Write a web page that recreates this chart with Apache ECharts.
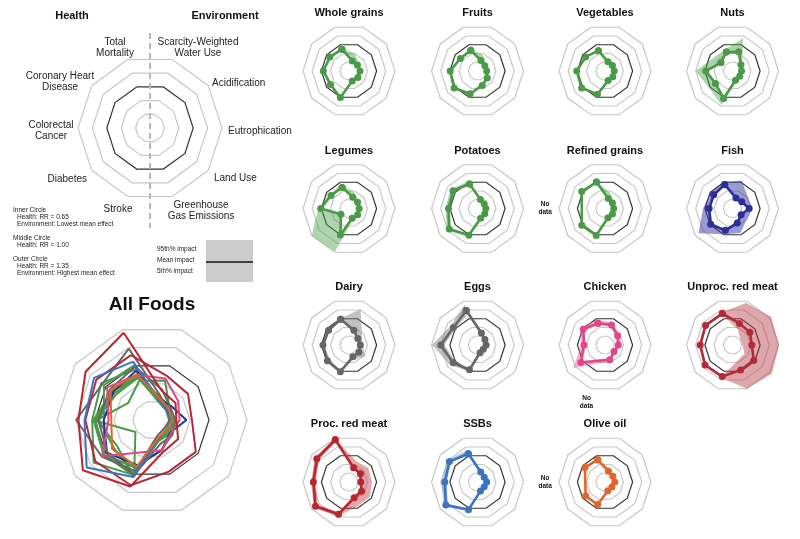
<!DOCTYPE html>
<html>
<head>
<meta charset="utf-8">
<script src="https://cdn.jsdelivr.net/npm/echarts@6/dist/echarts.min.js"></script>
<style>
  html, body { margin: 0; padding: 0; background: #ffffff; }
  #chart { width: 800px; height: 539px; }
</style>
</head>
<body>
<div id="chart"></div>
<script>
// ---------------- DATA ----------------
// Axis order (counter-clockwise from top-left):
// Total Mortality, Coronary Heart Disease, Colorectal Cancer, Diabetes, Stroke,
// Greenhouse Gas Emissions, Land Use, Eutrophication, Acidification, Scarcity-Weighted Water Use
// Values in ring units: 0 = centre, 3 = middle (black) ring, 5 = outer ring.
const healthAxes = ['Total\nMortality', 'Coronary Heart\nDisease', 'Colorectal\nCancer', 'Diabetes', 'Stroke'];
const envAxes = ['Greenhouse\nGas Emissions', 'Land Use', 'Eutrophication', 'Acidification', 'Scarcity-Weighted\nWater Use'];
const ringTicks = [0, 1, 2, 3, 4, 5];

const foodNames = ['Whole grains', 'Fruits', 'Vegetables', 'Nuts', 'Legumes', 'Potatoes', 'Refined grains', 'Fish',
  'Dairy', 'Eggs', 'Chicken', 'Unproc. red meat', 'Proc. red meat', 'SSBs', 'Olive oil'];

const wholeGrainsMean = [2.50, 2.57, 2.79, 2.49, 3.04, 1.15, 1.20, 1.20, 1.13, 1.15];
const wholeGrainsLow  = [2.40, 2.45, 2.65, 2.35, 2.95, 1.05, 1.10, 1.10, 1.05, 1.05];
const wholeGrainsHigh = [2.65, 2.65, 2.90, 2.60, 3.15, 1.25, 1.30, 1.30, 1.35, 2.00];

const fruitsMean = [2.36, 2.31, 2.97, 3.14, 2.60, 1.65, 1.31, 1.00, 0.98, 1.20];
const fruitsLow  = [2.22, 2.16, 2.82, 3.00, 2.47, 1.55, 1.22, 0.92, 0.90, 1.10];
const fruitsHigh = [2.50, 2.46, 3.12, 3.28, 2.74, 1.75, 1.40, 1.10, 1.20, 1.85];

const vegetablesMean = [2.32, 2.60, 3.08, 3.14, 2.66, 1.10, 1.05, 1.00, 1.00, 1.05];
const vegetablesLow  = [2.22, 2.50, 2.98, 3.04, 2.56, 1.02, 0.97, 0.92, 0.92, 0.97];
const vegetablesHigh = [2.42, 2.70, 3.18, 3.24, 2.76, 1.18, 1.13, 1.08, 1.10, 1.20];

const nutsMean = [2.17, 1.54, 2.90, 2.29, 3.13, 1.06, 0.97, 0.98, 1.14, 2.19];
const nutsLow  = [2.00, 1.40, 2.80, 2.20, 3.00, 0.96, 0.88, 0.90, 1.04, 1.90];
const nutsHigh = [2.50, 2.50, 4.00, 3.16, 3.87, 1.30, 1.10, 1.10, 1.30, 3.75];

const legumesMean = [2.40, 2.42, 3.08, 1.08, 3.04, 1.12, 1.16, 1.10, 1.15, 1.30];
const legumesLow  = [2.30, 2.30, 2.95, 0.95, 2.90, 1.00, 1.05, 1.00, 1.05, 1.20];
const legumesHigh = [2.75, 2.60, 3.35, 5.00, 4.95, 1.30, 1.30, 1.25, 1.35, 1.85];

const potatoesMean = [2.80, 3.30, 3.15, 3.80, 3.05, 1.12, 0.97, 0.90, 0.90, 1.03];
const potatoesLow  = [2.70, 3.10, 3.00, 3.60, 2.95, 1.04, 0.90, 0.83, 0.83, 0.95];
const potatoesHigh = [3.10, 3.60, 3.50, 4.10, 3.20, 1.20, 1.05, 0.97, 0.98, 1.12];

const refinedGrainsMean = [3.02, 3.13, null, 3.12, 3.08, 1.05, 1.00, 0.95, 1.00, 1.15];
const refinedGrainsLow  = [2.95, 3.05, null, 3.05, 3.00, 0.95, 0.90, 0.88, 0.92, 1.05];
const refinedGrainsHigh = [3.10, 3.20, null, 3.20, 3.15, 1.15, 1.10, 1.05, 1.20, 1.80];

const fishMean = [2.73, 2.52, 2.54, 2.93, 2.50, 1.67, 1.16, 1.81, 1.25, 1.21];
const fishLow  = [2.60, 2.40, 2.40, 2.75, 2.38, 1.50, 1.05, 1.65, 1.12, 1.10];
const fishHigh = [3.00, 3.00, 3.20, 4.57, 2.93, 2.81, 1.92, 2.17, 2.09, 3.20];

const dairyMean = [2.94, 2.74, 2.83, 2.90, 3.05, 1.35, 1.33, 1.23, 1.18, 1.69];
const dairyLow  = [2.85, 2.65, 2.70, 2.60, 2.95, 1.25, 1.20, 1.10, 1.05, 1.50];
const dairyHigh = [3.05, 2.85, 2.95, 3.05, 3.15, 1.60, 2.15, 1.50, 1.75, 4.10];

const eggsMean = [3.95, 3.23, 3.99, 3.27, 2.83, 0.88, 0.78, 0.94, 1.00, 1.37];
const eggsLow  = [3.50, 3.00, 3.60, 3.00, 2.70, 0.80, 0.70, 0.85, 0.90, 1.25];
const eggsHigh = [4.60, 3.60, 4.95, 3.70, 3.00, 1.00, 0.90, 1.05, 1.10, 1.50];

const chickenMean = [2.49, 2.92, 2.29, 3.25, null, 1.68, 1.22, 1.45, 1.70, 2.30];
const chickenLow  = [2.30, 2.70, 2.10, 2.90, null, 1.50, 1.10, 1.30, 1.50, 2.10];
const chickenHigh = [2.85, 3.30, 2.60, 4.27, null, 1.90, 1.45, 1.70, 2.00, 2.60];

const unprocRedMeatMean = [3.59, 3.62, 3.51, 3.69, 3.61, 2.86, 2.85, 2.10, 2.34, 2.46];
const unprocRedMeatLow  = [3.45, 3.50, 3.40, 3.55, 3.50, 1.80, 1.60, 1.10, 1.05, 1.80];
const unprocRedMeatHigh = [3.75, 3.75, 3.65, 3.85, 3.75, 5.00, 5.30, 5.07, 5.20, 4.80];

const procRedMeatMean = [4.83, 4.32, 3.87, 4.50, 3.68, 1.80, 1.70, 1.28, 1.53, 1.63];
const procRedMeatLow  = [4.60, 4.05, 3.60, 4.20, 3.45, 1.60, 1.50, 1.15, 1.35, 1.45];
const procRedMeatHigh = [5.00, 4.60, 4.10, 4.75, 3.95, 2.80, 2.78, 2.50, 2.60, 2.40];

const ssbsMean = [3.23, 3.77, 3.55, 4.25, 3.16, 1.04, 0.90, 1.00, 0.90, 1.14];
const ssbsLow  = [3.10, 3.60, 3.35, 4.00, 3.05, 0.95, 0.82, 0.92, 0.82, 1.05];
const ssbsHigh = [3.60, 4.05, 3.90, 4.55, 3.30, 1.12, 0.98, 1.08, 0.98, 1.30];

const oliveOilMean = [2.54, 2.70, null, 2.60, 2.58, 1.00, 0.93, 1.06, 1.06, 1.22];
const oliveOilLow  = [2.45, 2.55, null, 2.50, 2.50, 0.92, 0.85, 0.98, 0.98, 1.12];
const oliveOilHigh = [2.65, 2.85, null, 2.75, 2.68, 1.08, 1.00, 1.15, 1.20, 1.60];

const legendNotes = ['Inner Circle', '  Health: RR = 0.65', '  Environment: Lowest mean effect',
  'Middle Circle', '  Health: RR = 1.00',
  'Outer Circle', '  Health: RR = 1.35', '  Environment: Highest mean effect'];
const bandLegendLabels = ['95th% impact', 'Mean impact', '5th% impact'];

// ---------------- STYLE / LAYOUT ----------------
const FONT = '"Liberation Sans", Arial, Helvetica, sans-serif';
const palette = {
  green: ['#4a9a47', 'rgba(74,160,72,0.45)'],
  fish: ['#2c2f98', 'rgba(55,55,165,0.5)'],
  gray: ['#666666', 'rgba(120,120,120,0.45)'],
  chicken: ['#e0468a', 'rgba(232,90,150,0.45)'],
  unproc: ['#b32b3b', 'rgba(180,60,72,0.45)'],
  proc: ['#b8262e', 'rgba(184,45,52,0.42)'],
  ssb: ['#3a73c0', 'rgba(58,115,192,0.42)'],
  olive: ['#e0662c', 'rgba(224,102,44,0.42)']
};
const foodColors = ['green', 'green', 'green', 'green', 'green', 'green', 'green', 'fish',
  'gray', 'gray', 'chicken', 'unproc', 'proc', 'ssb', 'olive'];
const foodMeans = [wholeGrainsMean, fruitsMean, vegetablesMean, nutsMean, legumesMean, potatoesMean, refinedGrainsMean, fishMean,
  dairyMean, eggsMean, chickenMean, unprocRedMeatMean, procRedMeatMean, ssbsMean, oliveOilMean];
const foodLows = [wholeGrainsLow, fruitsLow, vegetablesLow, nutsLow, legumesLow, potatoesLow, refinedGrainsLow, fishLow,
  dairyLow, eggsLow, chickenLow, unprocRedMeatLow, procRedMeatLow, ssbsLow, oliveOilLow];
const foodHighs = [wholeGrainsHigh, fruitsHigh, vegetablesHigh, nutsHigh, legumesHigh, potatoesHigh, refinedGrainsHigh, fishHigh,
  dairyHigh, eggsHigh, chickenHigh, unprocRedMeatHigh, procRedMeatHigh, ssbsHigh, oliveOilHigh];

const axisNames = healthAxes.concat(envAxes);
const N = axisNames.length;
const STEP = 360 / N;
const START = 108;
const RMAX = ringTicks[ringTicks.length - 1];
const colX = [349, 477.5, 605, 732.5];
const rowY = [71, 208.5, 345, 482];
const SMALL_R = 46;
const LEG = { cx: 150, cy: 128, r: 72 };
const ALL = { cx: 152, cy: 420, r: 95 };
const RING_COLORS = ringTicks.map(t => t === 3 ? '#333333' : '#c8c8c8');

function radarAt(cx, cy, r) {
  return {
    center: [cx, cy], radius: r, startAngle: START, shape: 'polygon', splitNumber: RMAX,
    indicator: axisNames.map(n => ({ name: n, min: 0, max: RMAX })),
    axisName: { show: false }, axisLine: { show: false }, axisTick: { show: false },
    axisLabel: { show: false }, splitArea: { show: false },
    splitLine: { lineStyle: { color: RING_COLORS, width: 1.2 } },
    silent: true
  };
}

const radars = [radarAt(LEG.cx, LEG.cy, LEG.r), radarAt(ALL.cx, ALL.cy, ALL.r)];
const polars = [{ center: [ALL.cx, ALL.cy], radius: ALL.r }];
const angleAxes = [], radiusAxes = [];
function addPolarAxes(idx) {
  angleAxes.push({ polarIndex: idx, type: 'value', min: 0, max: 360, startAngle: START, clockwise: false, show: false });
  radiusAxes.push({ polarIndex: idx, type: 'value', min: 0, max: RMAX, show: false });
}
addPolarAxes(0);

function linePoints(vals) {
  const pts = [];
  vals.forEach((v, i) => { if (v != null) pts.push([v, i * STEP]); });
  pts.push([pts[0][0], pts[0][1] + 360]);
  return pts;
}
function bandRenderer(low, high, fill) {
  return function (params, api) {
    const outer = [], inner = [];
    high.forEach((v, i) => { if (v != null) outer.push(api.coord([v, i * STEP]).slice(0, 2)); });
    low.forEach((v, i) => { if (v != null) inner.push(api.coord([v, i * STEP]).slice(0, 2)); });
    const pts = outer.concat([outer[0], inner[0]], inner.slice(1).reverse(), [inner[0]]);
    return { type: 'polygon', shape: { points: pts }, style: { fill: fill } };
  };
}

const series = [];
const graphics = [];
function txt(x, y, text, font, align, color, lh) {
  graphics.push({
    type: 'text', x: x, y: y, silent: true,
    style: { text: text, font: font, fill: color || '#1a1a1a', textAlign: align || 'center', textVerticalAlign: 'middle', lineHeight: lh || 11 }
  });
}

// All Foods overlay
foodNames.forEach((name, k) => {
  const c = palette[foodColors[k]][0];
  series.push({
    type: 'line', coordinateSystem: 'polar', polarIndex: 0, data: linePoints(foodMeans[k]),
    symbol: 'none', lineStyle: { width: 2, color: c }, itemStyle: { color: c }, silent: true, z: 3
  });
});

// Small multiples
foodNames.forEach((name, k) => {
  const cx = colX[k % 4], cy = rowY[Math.floor(k / 4)];
  const c = palette[foodColors[k]];
  radars.push(radarAt(cx, cy, SMALL_R));
  const pIdx = polars.length;
  polars.push({ center: [cx, cy], radius: SMALL_R });
  addPolarAxes(pIdx);
  series.push({
    type: 'custom', coordinateSystem: 'polar', polarIndex: pIdx, data: [[0, 0]], silent: true, z: 2,
    renderItem: bandRenderer(foodLows[k], foodHighs[k], c[1])
  });
  series.push({
    type: 'line', coordinateSystem: 'polar', polarIndex: pIdx, data: linePoints(foodMeans[k]),
    symbol: 'circle', symbolSize: 7, lineStyle: { width: 2.6, color: c[0] }, itemStyle: { color: c[0] }, silent: true, z: 3
  });
  txt(cx, cy - 58, name, 'bold 11px ' + FONT, 'center', '#111');
  foodMeans[k].forEach((v, i) => {
    if (v == null) {
      const a = (START + i * STEP) * Math.PI / 180;
      txt(cx + SMALL_R * 1.3 * Math.cos(a), cy - SMALL_R * 1.3 * Math.sin(a), 'No\ndata', 'bold 6.5px ' + FONT, 'center', '#111', 8);
    }
  });
});

// Key radar labels
const F10 = '10px ' + FONT;
txt(72, 16, 'Health', 'bold 11px ' + FONT, 'center', '#111');
txt(225, 16, 'Environment', 'bold 11px ' + FONT, 'center', '#111');
const keyLabelPos = [
  [115, 47.5, 'center'], [60, 81.5, 'center'], [51, 130.5, 'center'], [87, 179, 'right'], [118, 209, 'center'],
  [201, 210.5, 'center'], [214, 178, 'left'], [228, 131, 'left'], [212, 83, 'left'], [198, 47.5, 'center']
];
axisNames.forEach((n, i) => txt(keyLabelPos[i][0], keyLabelPos[i][1], n, F10, keyLabelPos[i][2], '#222'));
graphics.push({
  type: 'line', silent: true, z: 10,
  shape: { x1: LEG.cx, y1: LEG.cy - LEG.r * 1.32, x2: LEG.cx, y2: LEG.cy + LEG.r * 1.39 },
  style: { stroke: '#b8b8b8', lineWidth: 2, lineDash: [6, 4] }
});
const noteY = [210, 217, 224, 238, 245, 259, 266, 273];
legendNotes.forEach((t, i) => {
  const indent = t.startsWith('  ');
  txt(indent ? 17 : 13, noteY[i], t.trim(), '6.5px ' + FONT, 'left', '#222');
});
graphics.push({ type: 'rect', silent: true, shape: { x: 206, y: 240, width: 47, height: 42 }, style: { fill: '#cccccc' } });
graphics.push({ type: 'line', silent: true, shape: { x1: 206, y1: 262, x2: 253, y2: 262 }, style: { stroke: '#111', lineWidth: 1.5 } });
const bandLegY = [249, 260, 271];
bandLegendLabels.forEach((t, i) => txt(157, bandLegY[i], t, '6.5px ' + FONT, 'left', '#222'));
txt(ALL.cx, 305, 'All Foods', 'bold 19px ' + FONT, 'center', '#111');

const chart = echarts.init(document.getElementById('chart'), null, { renderer: 'canvas' });
chart.setOption({
  animation: false,
  backgroundColor: '#ffffff',
  radar: radars,
  polar: polars,
  angleAxis: angleAxes,
  radiusAxis: radiusAxes,
  series: series,
  graphic: graphics
});
</script>
</body>
</html>
